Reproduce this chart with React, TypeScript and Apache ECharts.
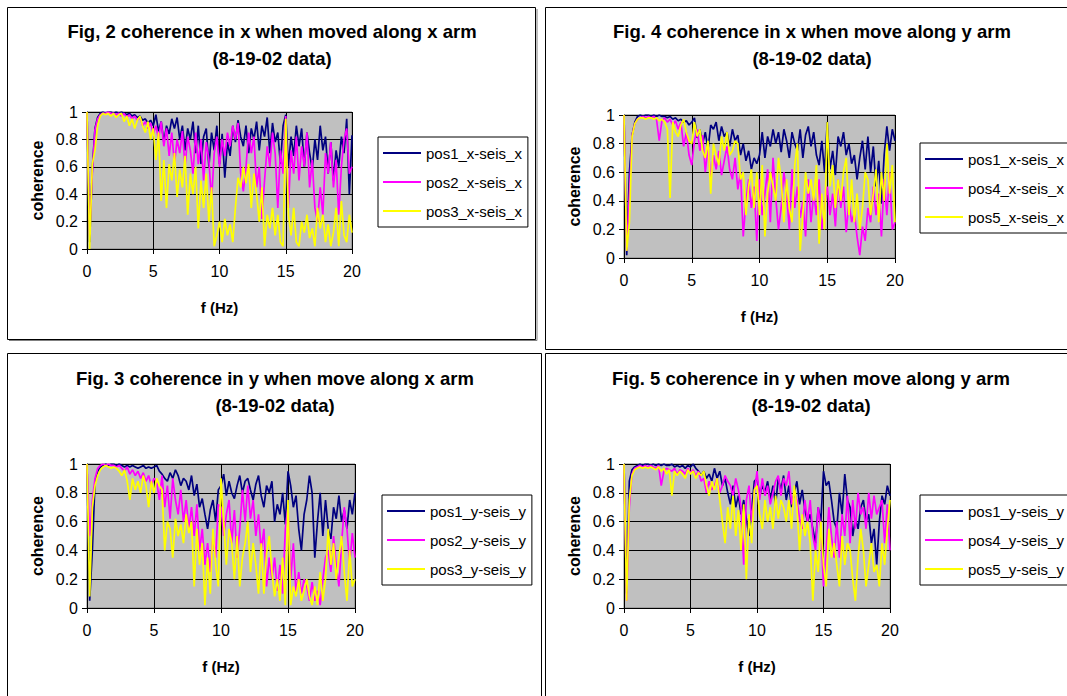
import React, { useEffect, useRef } from "react";
import * as echarts from "echarts";

// Frequency resolution of the sampled spectra (Hz between points, starting at 0 Hz)
const FREQ_STEP_HZ = 0.2;
const X_MIN = 0;
const X_MAX = 20;
const X_INTERVAL = 5;
const Y_MIN = 0;
const Y_MAX = 1;
const Y_INTERVAL = 0.2;

// ---- Fig. 2 : coherence in x when moved along x arm ----
const fig2Pos1 = [
  1.0, 0.05, 0.58, 0.88, 0.96, 0.99, 1.0, 0.99, 1.0, 1.0,
  0.99, 1.0, 0.99, 1.0, 0.99, 0.98, 0.99, 0.97, 0.98, 0.96,
  0.97, 0.94, 0.95, 0.92, 0.94, 0.9, 0.98, 0.86, 0.93, 0.78,
  0.9, 0.84, 0.95, 0.88, 0.96, 0.8, 0.9, 0.72, 0.88, 0.8,
  0.93, 0.7, 0.9, 0.62, 0.82, 0.88, 0.6, 0.85, 0.72, 0.9,
  0.62, 0.84, 0.52, 0.78, 0.68, 0.9, 0.78, 0.94, 0.82, 0.75,
  0.9, 0.7, 0.88, 0.8, 0.93, 0.72, 0.9, 0.82, 0.96, 0.7,
  0.92, 0.78, 0.85, 0.62, 0.9, 0.98, 0.6, 0.82, 0.68, 0.9,
  0.75, 0.88, 0.6, 0.85, 0.7, 0.58, 0.8, 0.65, 0.9, 0.72,
  0.82, 0.55, 0.78, 0.5, 0.72, 0.6, 0.82, 0.7, 0.95, 0.4,
  0.83,
];
const fig2Pos2 = [
  1.0, 0.1, 0.55, 0.87, 0.95, 0.98, 0.99, 0.99, 1.0, 0.99,
  0.99, 0.98, 0.99, 0.97, 0.99, 0.96, 0.98, 0.95, 0.97, 0.94,
  0.96, 0.9, 0.93, 0.88, 0.92, 0.84, 0.9, 0.8, 0.93, 0.75,
  0.88, 0.68, 0.85, 0.62, 0.8, 0.7, 0.86, 0.6, 0.82, 0.72,
  0.55, 0.85, 0.62, 0.8, 0.5, 0.78, 0.65, 0.35, 0.7, 0.82,
  0.6, 0.8, 0.68, 0.85, 0.75, 0.9, 0.8, 0.92, 0.55, 0.42,
  0.6, 0.85, 0.7, 0.82, 0.45, 0.6, 0.22, 0.5, 0.75, 0.6,
  0.85, 0.7, 0.3, 0.72, 0.55, 0.97, 0.3, 0.72, 0.55, 0.82,
  0.5, 0.75, 0.6, 0.85, 0.45, 0.65, 0.3, 0.2, 0.45, 0.25,
  0.7, 0.55, 0.78, 0.45, 0.65, 0.25, 0.6, 0.8, 0.88, 0.55,
  0.6,
];
const fig2Pos3 = [
  1.0, 0.0, 0.62, 0.72, 0.9, 0.97, 0.99, 0.98, 0.99, 0.97,
  0.99, 0.96, 0.98, 0.99, 0.93, 0.97, 0.9, 0.95, 0.88, 0.94,
  0.97, 0.9, 0.85, 0.93, 0.8, 0.88, 0.65, 0.85, 0.35, 0.65,
  0.3, 0.62, 0.5, 0.7, 0.38, 0.58, 0.45, 0.68, 0.25, 0.55,
  0.4, 0.6, 0.15, 0.5, 0.3, 0.55, 0.2, 0.45, 0.02, 0.1,
  0.2, 0.05, 0.22, 0.1, 0.18, 0.05, 0.3, 0.52, 0.45, 0.6,
  0.48, 0.62, 0.3, 0.55, 0.4, 0.2, 0.45, 0.02, 0.25, 0.15,
  0.3, 0.1, 0.25, 0.05, 0.02, 0.95, 0.25, 0.1, 0.3, 0.05,
  0.02, 0.2, 0.12, 0.25, 0.08, 0.15, 0.02, 0.3, 0.15, 0.25,
  0.05, 0.18, 0.02, 0.12, 0.3, 0.02, 0.35, 0.1, 0.05, 0.25,
  0.12,
];

// ---- Fig. 4 : coherence in x when move along y arm ----
const fig4Pos1 = [
  1.0, 0.02, 0.6, 0.86, 0.95, 0.99, 1.0, 0.99, 1.0, 1.0,
  0.99, 1.0, 0.99, 1.0, 0.99, 0.99, 0.98, 0.99, 0.97, 0.98,
  0.96, 0.97, 0.95, 0.96, 0.93, 0.95, 0.98, 0.84, 0.9, 0.8,
  0.88, 0.76, 0.93, 0.9, 0.95, 0.82, 0.92, 0.85, 0.88, 0.78,
  0.9, 0.82, 0.86, 0.72, 0.8, 0.68, 0.75, 0.62, 0.7, 0.66,
  0.72, 0.88, 0.7, 0.85, 0.78, 0.9, 0.8, 0.88, 0.74, 0.9,
  0.82, 0.7, 0.88, 0.8, 0.75, 0.9, 0.7, 0.86, 0.92, 0.78,
  0.88, 0.72, 0.65, 0.82, 0.6, 0.95, 0.62, 0.75, 0.58, 0.85,
  0.78, 0.88, 0.72, 0.8, 0.66, 0.72, 0.55, 0.7, 0.82, 0.62,
  0.85, 0.6, 0.78, 0.5, 0.68, 0.38, 0.72, 0.92, 0.75, 0.9,
  0.82,
];
const fig4Pos4 = [
  1.0, 0.05, 0.45, 0.86, 0.94, 0.97, 0.98, 0.99, 0.98, 0.99,
  0.98, 0.99, 0.97, 0.82, 0.96, 0.98, 0.95, 0.97, 0.93, 0.96,
  0.9, 0.95, 0.78, 0.88, 0.72, 0.65, 0.82, 0.9, 0.75, 0.86,
  0.6, 0.78, 0.55, 0.72, 0.62, 0.75, 0.58, 0.68, 0.78, 0.62,
  0.55, 0.7, 0.48, 0.6, 0.15, 0.4, 0.55, 0.35, 0.5, 0.12,
  0.55, 0.3, 0.45, 0.62, 0.25, 0.7, 0.42, 0.2, 0.35, 0.6,
  0.45, 0.2, 0.62, 0.35, 0.5, 0.28, 0.4, 0.15, 0.55, 0.25,
  0.45, 0.3, 0.55, 0.2, 0.35, 0.5, 0.3, 0.45, 0.22, 0.55,
  0.35, 0.5, 0.18, 0.4, 0.25, 0.32, 0.15, 0.02, 0.22, 0.12,
  0.35, 0.25, 0.5, 0.3, 0.45, 0.15, 0.55, 0.3, 0.6, 0.2,
  0.25,
];
const fig4Pos5 = [
  1.0, 0.05, 0.25, 0.85, 0.94, 0.97, 0.98, 0.98, 0.97, 0.98,
  0.98, 0.97, 0.98, 0.96, 0.97, 0.95, 0.9, 0.42, 0.95, 0.88,
  0.85, 0.93, 0.97, 0.88, 0.82, 0.8, 0.95, 0.85, 0.9, 0.75,
  0.7, 0.82, 0.45, 0.8, 0.72, 0.65, 0.85, 0.75, 0.88, 0.72,
  0.75, 0.82, 0.8, 0.55, 0.6, 0.3, 0.5, 0.62, 0.35, 0.6,
  0.3, 0.65, 0.15, 0.45, 0.6, 0.5, 0.4, 0.7, 0.55, 0.25,
  0.55, 0.35, 0.25, 0.65, 0.8, 0.05, 0.3, 0.6, 0.45, 0.55,
  0.4, 0.65, 0.1, 0.45, 0.2, 0.95, 0.5, 0.65, 0.35, 0.55,
  0.4, 0.6, 0.7, 0.3, 0.55, 0.25, 0.45, 0.2, 0.35, 0.6,
  0.55, 0.3, 0.45, 0.62, 0.25, 0.6, 0.4, 0.8, 0.45, 0.65,
  0.25,
];

// ---- Fig. 3 : coherence in y when move along x arm ----
const fig3Pos1 = [
  1.0, 0.05, 0.4, 0.88, 0.95, 0.98, 0.99, 1.0, 0.99, 1.0,
  1.0, 0.99, 1.0, 0.99, 0.98, 0.99, 0.98, 0.99, 0.98, 0.97,
  0.98, 0.99, 0.97, 0.98, 0.97, 0.98, 0.99, 0.95, 0.93, 0.9,
  0.88, 0.94, 0.9, 0.96, 0.92, 0.85, 0.9, 0.88, 0.82, 0.92,
  0.78, 0.86, 0.7, 0.76, 0.65, 0.55, 0.68, 0.75, 0.6, 0.82,
  0.85, 0.93, 0.78, 0.88, 0.8, 0.76, 0.85, 0.92, 0.8, 0.88,
  0.9, 0.82, 0.75, 0.86, 0.92, 0.78, 0.7, 0.85, 0.8, 0.88,
  0.6, 0.72, 0.65, 0.8, 0.58, 0.95, 0.85, 0.7, 0.78, 0.55,
  0.4, 0.65, 0.75, 0.92, 0.8, 0.35, 0.6, 0.8, 0.5, 0.75,
  0.55, 0.48, 0.7, 0.62, 0.78, 0.6, 0.68, 0.55, 0.75, 0.65,
  0.8,
];
const fig3Pos2 = [
  1.0, 0.5, 0.75, 0.9, 0.97, 0.99, 1.0, 0.99, 1.0, 0.99,
  0.99, 0.98, 0.99, 0.97, 0.95, 0.98, 0.93, 0.96, 0.92, 0.95,
  0.9, 0.94, 0.88, 0.92, 0.85, 0.9, 0.88, 0.75, 0.92, 0.7,
  0.85, 0.62, 0.9, 0.75, 0.65, 0.82, 0.6, 0.75, 0.55, 0.7,
  0.5, 0.72, 0.4, 0.55, 0.3, 0.45, 0.25, 0.5, 0.35, 0.72,
  0.7, 0.5, 0.65, 0.75, 0.45, 0.68, 0.35, 0.55, 0.82, 0.6,
  0.85, 0.62, 0.75, 0.5, 0.65, 0.4, 0.55, 0.15, 0.35, 0.2,
  0.35, 0.12, 0.3, 0.1, 0.55, 0.7, 0.2, 0.45, 0.1, 0.25,
  0.1, 0.2, 0.15, 0.05, 0.18, 0.05, 0.12, 0.02, 0.2, 0.35,
  0.4, 0.25, 0.5, 0.3, 0.15, 0.45, 0.7, 0.55, 0.3, 0.52,
  0.35,
];
const fig3Pos3 = [
  1.0, 0.08, 0.7, 0.85, 0.92, 0.96, 0.98, 0.99, 0.98, 0.97,
  0.98, 0.97, 0.95, 0.92, 0.96, 0.88, 0.75, 0.9, 0.82, 0.88,
  0.8, 0.92, 0.85, 0.7, 0.88, 0.8, 0.9, 0.85, 0.82, 0.4,
  0.6, 0.55, 0.35, 0.62, 0.5, 0.58, 0.45, 0.65, 0.52, 0.6,
  0.15, 0.55, 0.3, 0.45, 0.02, 0.35, 0.1, 0.55, 0.3, 0.15,
  0.9, 0.6, 0.3, 0.55, 0.45, 0.2, 0.5, 0.15, 0.35, 0.45,
  0.6, 0.25, 0.45, 0.3, 0.1, 0.45, 0.1, 0.38, 0.5, 0.25,
  0.08, 0.2, 0.05, 0.35, 0.02, 0.75, 0.02, 0.15, 0.08, 0.2,
  0.05, 0.12, 0.2, 0.08, 0.02, 0.15, 0.02, 0.25, 0.05, 0.2,
  0.55, 0.3, 0.45, 0.2, 0.35, 0.5, 0.25, 0.05, 0.4, 0.15,
  0.2,
];

// ---- Fig. 5 : coherence in y when move along y arm ----
const fig5Pos1 = [
  1.0, 0.1, 0.88, 0.96, 0.98, 0.99, 1.0, 0.99, 1.0, 1.0,
  0.99, 1.0, 0.99, 1.0, 0.99, 1.0, 0.99, 0.99, 1.0, 0.98,
  0.99, 0.98, 0.99, 0.97, 0.99, 0.98, 1.0, 0.97, 0.95, 0.92,
  0.95, 0.9, 0.93, 0.88, 0.97, 0.9, 0.95, 0.85, 0.9, 0.8,
  0.72, 0.85, 0.7, 0.78, 0.65, 0.75, 0.62, 0.5, 0.68, 0.88,
  0.9, 0.78, 0.85, 0.8, 0.88, 0.75, 0.85, 0.72, 0.9, 0.82,
  0.92, 0.75, 0.85, 0.7, 0.8, 0.88, 0.72, 0.82, 0.68, 0.6,
  0.65, 0.55, 0.45, 0.7, 0.6, 0.95, 0.85, 0.88, 0.75, 0.6,
  0.55, 0.8, 0.65, 0.93, 0.75, 0.7, 0.5, 0.62, 0.55, 0.7,
  0.75, 0.6, 0.65, 0.45, 0.55, 0.3, 0.6, 0.78, 0.72, 0.85,
  0.78,
];
const fig5Pos4 = [
  1.0, 0.05, 0.7, 0.93, 0.97, 0.98, 0.99, 0.98, 0.99, 0.98,
  0.99, 0.98, 0.97, 0.99, 0.85, 0.95, 0.97, 0.96, 0.95, 0.97,
  0.93, 0.96, 0.95, 0.93, 0.97, 0.94, 0.96, 0.92, 0.95, 0.88,
  0.9, 0.8, 0.88, 0.82, 0.85, 0.9, 0.8, 0.85, 0.92, 0.88,
  0.85, 0.78, 0.9, 0.82, 0.7, 0.3, 0.75, 0.85, 0.6, 0.8,
  0.95, 0.75, 0.9, 0.78, 0.85, 0.72, 0.8, 0.88, 0.92, 0.78,
  0.9, 0.85, 0.95, 0.72, 0.8, 0.75, 0.62, 0.55, 0.75, 0.6,
  0.75, 0.5, 0.4, 0.7, 0.55, 0.15, 0.4, 0.7, 0.5, 0.35,
  0.6, 0.35, 0.65, 0.5, 0.78, 0.45, 0.75, 0.55, 0.8, 0.65,
  0.7, 0.55, 0.8, 0.62, 0.78, 0.65, 0.7, 0.75, 0.45, 0.72,
  0.4,
];
const fig5Pos5 = [
  1.0, 0.05, 0.75, 0.92, 0.96, 0.97, 0.98, 0.97, 0.98, 0.97,
  0.98, 0.97, 0.96, 0.98, 0.95, 0.97, 0.93, 0.96, 0.78, 0.95,
  0.92, 0.95, 0.93, 0.9, 0.96, 0.93, 0.95, 0.9, 0.94, 0.92,
  0.95, 0.85, 0.78, 0.88, 0.82, 0.9, 0.75, 0.6, 0.45, 0.7,
  0.55, 0.78, 0.5, 0.68, 0.4, 0.72, 0.2, 0.65, 0.45, 0.82,
  0.85, 0.65, 0.55, 0.75, 0.6, 0.7, 0.55, 0.78, 0.62, 0.75,
  0.7, 0.6, 0.75, 0.55, 0.85, 0.7, 0.4, 0.65, 0.5, 0.6,
  0.45, 0.05, 0.4, 0.25, 0.6, 0.3, 0.15, 0.55, 0.35, 0.45,
  0.3, 0.15, 0.5, 0.3, 0.45, 0.4, 0.2, 0.05, 0.35, 0.55,
  0.4, 0.15, 0.3, 0.45, 0.25, 0.3, 0.15, 0.45, 0.3, 0.55,
  0.75,
];

const FONT = '"Liberation Sans", Arial, Helvetica, sans-serif';
const COLORS = ["#000080", "#FF00FF", "#FFFF00"];

type Panel = {
  title: string;
  names: string[];
  values: number[][];
  grid: { left: number; top: number; width: number; height: number };
  legend: { left: number; top: number };
  titleX: number;
  titleY: number;
  frame: { x: number; y: number; w: number; h: number };
};

const panels: Panel[] = [
  {
    title: "Fig, 2 coherence in x when moved along x arm\n(8-19-02 data)",
    names: ["pos1_x-seis_x", "pos2_x-seis_x", "pos3_x-seis_x"],
    values: [fig2Pos1, fig2Pos2, fig2Pos3],
    grid: { left: 87, top: 112, width: 265, height: 137 },
    legend: { left: 378, top: 137 },
    titleX: 272,
    titleY: 45,
    frame: { x: 7.5, y: 7.5, w: 528, h: 332 },
  },
  {
    title: "Fig. 4 coherence in x when move along y arm\n(8-19-02 data)",
    names: ["pos1_x-seis_x", "pos4_x-seis_x", "pos5_x-seis_x"],
    values: [fig4Pos1, fig4Pos4, fig4Pos5],
    grid: { left: 624, top: 115, width: 271, height: 143 },
    legend: { left: 920, top: 143 },
    titleX: 812,
    titleY: 45,
    frame: { x: 545.5, y: 7.5, w: 560, h: 342 },
  },
  {
    title: "Fig. 3 coherence in y when move along x arm\n(8-19-02 data)",
    names: ["pos1_y-seis_y", "pos2_y-seis_y", "pos3_y-seis_y"],
    values: [fig3Pos1, fig3Pos2, fig3Pos3],
    grid: { left: 87, top: 464, width: 268, height: 144 },
    legend: { left: 382, top: 495 },
    titleX: 275,
    titleY: 392,
    frame: { x: 7.5, y: 353.5, w: 534, h: 360 },
  },
  {
    title: "Fig. 5 coherence in y when move along y arm\n(8-19-02 data)",
    names: ["pos1_y-seis_y", "pos4_y-seis_y", "pos5_y-seis_y"],
    values: [fig5Pos1, fig5Pos4, fig5Pos5],
    grid: { left: 624, top: 464, width: 266, height: 144 },
    legend: { left: 920, top: 495 },
    titleX: 811,
    titleY: 392,
    frame: { x: 545.5, y: 353.5, w: 560, h: 360 },
  },
];

const toPairs = (vals: number[]) =>
  vals.map((v, i) => [Number((X_MIN + i * FREQ_STEP_HZ).toFixed(2)), v]);

export default function App() {
  const ref = useRef<HTMLDivElement>(null);

  useEffect(() => {
    if (!ref.current) return;
    const chart = echarts.init(ref.current, undefined, { renderer: "svg" });

    const grid = panels.map((p) => ({
      ...p.grid,
      show: true,
      backgroundColor: "#C0C0C0",
      borderColor: "#808080",
      borderWidth: 1,
      containLabel: false,
    }));

    const xAxis = panels.map((_, i) => ({
      type: "value",
      gridIndex: i,
      min: X_MIN,
      max: X_MAX,
      interval: X_INTERVAL,
      name: "f (Hz)",
      nameLocation: "middle",
      nameGap: 51,
      nameTextStyle: { fontFamily: FONT, fontSize: 15, fontWeight: "bold", color: "#000" },
      axisLine: { show: true, onZero: false, lineStyle: { color: "#000", width: 1 } },
      axisTick: { show: true, inside: false, length: 5, lineStyle: { color: "#000" } },
      axisLabel: { fontFamily: FONT, fontSize: 16, color: "#000", margin: 14 },
      splitLine: { show: true, lineStyle: { color: "#000", width: 1 } },
    }));

    const yAxis = panels.map((_, i) => ({
      type: "value",
      gridIndex: i,
      min: Y_MIN,
      max: Y_MAX,
      interval: Y_INTERVAL,
      name: "coherence",
      nameLocation: "middle",
      nameGap: 42,
      nameTextStyle: { fontFamily: FONT, fontSize: 16, fontWeight: "bold", color: "#000" },
      axisLine: { show: true, lineStyle: { color: "#000", width: 1 } },
      axisTick: { show: true, inside: false, length: 5, lineStyle: { color: "#000" } },
      axisLabel: { fontFamily: FONT, fontSize: 16, color: "#000", margin: 9 },
      splitLine: { show: true, lineStyle: { color: "#000", width: 1 } },
    }));

    const series: any[] = [];
    panels.forEach((p, i) => {
      p.names.forEach((name, k) => {
        series.push({
          type: "line",
          name,
          xAxisIndex: i,
          yAxisIndex: i,
          data: toPairs(p.values[k]),
          showSymbol: false,
          symbol: "none",
          color: COLORS[k],
          lineStyle: { color: COLORS[k], width: 1.7 },
          z: 2 + k,
        });
      });
    });

    const legend = panels.map((p) => ({
      orient: "vertical",
      left: p.legend.left,
      top: p.legend.top,
      data: p.names,
      selectedMode: false,
      backgroundColor: "#FFFFFF",
      borderColor: "#000",
      borderWidth: 1,
      padding: [7, 6, 7, 5],
      itemGap: 11,
      itemWidth: 38,
      itemHeight: 2,
      icon: "rect",
      textStyle: { fontFamily: FONT, fontSize: 15, color: "#000", lineHeight: 18 },
    }));

    const graphic: any[] = [];
    panels.forEach((p) => {
      graphic.push({
        type: "rect",
        shape: { x: p.frame.x, y: p.frame.y, width: p.frame.w, height: p.frame.h },
        style: { fill: "none", stroke: "#000", lineWidth: 1 },
        silent: true,
        z: 0,
      });
      graphic.push({
        type: "text",
        x: p.titleX,
        y: p.titleY,
        silent: true,
        style: {
          text: p.title,
          fill: "#000",
          font: `bold 18.5px ${FONT}`,
          textAlign: "center",
          textVerticalAlign: "middle",
          align: "center",
          verticalAlign: "middle",
          lineHeight: 27,
        },
      });
    });
    // shadow of the first frame
    graphic.push({
      type: "polyline",
      shape: { points: [[537, 9], [537, 340.5], [9, 340.5]] },
      style: { fill: "none", stroke: "#808080", lineWidth: 1 },
      silent: true,
    });

    chart.setOption({
      animation: false,
      backgroundColor: "#FFFFFF",
      textStyle: { fontFamily: FONT },
      grid,
      xAxis,
      yAxis,
      legend,
      series,
      graphic,
    });

    return () => chart.dispose();
  }, []);

  return (
    <div
      ref={ref}
      style={{ position: "absolute", left: 0, top: 0, width: 1067, height: 696 }}
    />
  );
}
